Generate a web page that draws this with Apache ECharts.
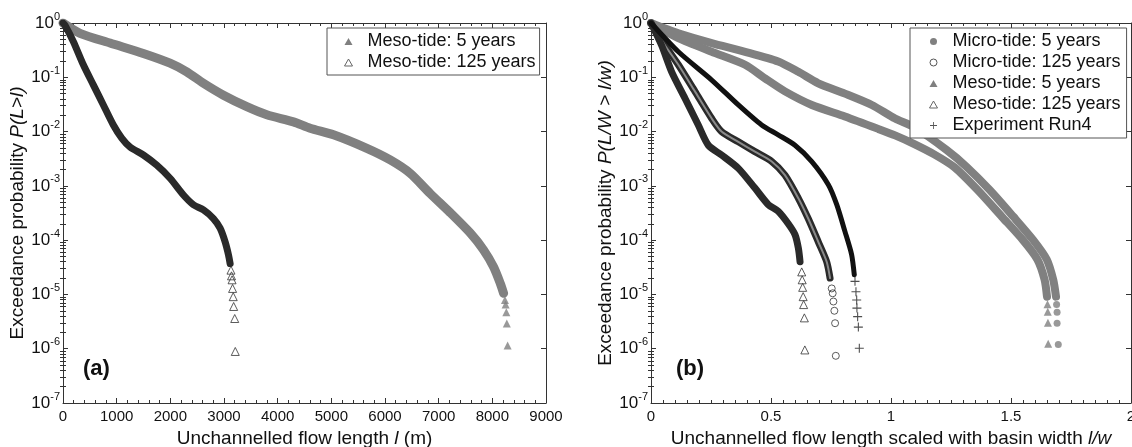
<!DOCTYPE html>
<html><head><meta charset="utf-8">
<script src="https://cdn.jsdelivr.net/npm/echarts@6/dist/echarts.min.js"></script>
<style>html,body{margin:0;padding:0;background:#fff}#c{width:1132px;height:447px}</style>
</head><body><div id="c"></div>
<script>
// ---------- Panel (a): x = unchannelled flow length l (m), y = P(L>l) ----------
const mesoA5Band = [[0,1],[317,0.646],[876,0.427],[1497,0.275],[1995,0.182],[2306,0.126],[2617,0.0776],[2990,0.0468],[3425,0.0288],[3798,0.0204],[4294,0.0151],[4605,0.0115],[5040,0.0087],[5662,0.0049],[6097,0.0030],[6470,0.0017],[6843,7.2e-4],[7216,3.2e-4],[7589,1.35e-4],[7837,6.6e-5],[8024,3.2e-5],[8148,1.6e-5],[8210,1.05e-5]];
const mesoA5Tail = [[8235,7.9e-6],[8248,6.5e-6],[8260,4.7e-6],[8270,2.9e-6],[8285,1.15e-6]];
const mesoA125Band = [[0,1],[37,0.912],[192,0.457],[379,0.170],[565,0.0724],[752,0.0309],[938,0.0132],[1094,0.0076],[1249,0.0052],[1498,0.0037],[1747,0.0024],[1995,0.00138],[2244,6.8e-4],[2430,4.5e-4],[2617,3.6e-4],[2803,2.5e-4],[2927,1.66e-4],[3021,9.3e-5],[3083,5.4e-5],[3114,3.7e-5]];
const mesoA125Tail = [[3130,2.8e-5],[3140,2.2e-5],[3150,1.86e-5],[3160,1.29e-5],[3172,9.1e-6],[3180,6.0e-6],[3200,3.6e-6],[3210,8.9e-7]];

// ---------- Panel (b): x = l/w, y = P(L/W > l/w) ----------
const microB5Band = [[0,1],[0.114,0.646],[0.253,0.427],[0.392,0.295],[0.530,0.195],[0.614,0.126],[0.697,0.0776],[0.808,0.050],[0.92,0.0309],[1.017,0.0174],[1.093,0.0123],[1.232,0.00457],[1.315,0.00224],[1.4125,8.3e-4],[1.51,2.7e-4],[1.593,1.0e-4],[1.649,4.4e-5],[1.676,1.86e-5],[1.6875,9.1e-6]];
const microB5Tail = [[1.690,6.5e-6],[1.692,4.7e-6],[1.692,2.95e-6],[1.697,1.2e-6]];
const mesoB5Band = [[0,1],[0.114,0.525],[0.253,0.295],[0.392,0.170],[0.475,0.0955],[0.558,0.055],[0.67,0.0309],[0.808,0.0190],[0.947,0.0112],[1.017,0.0085],[1.093,0.0060],[1.18,0.0038],[1.265,0.00219],[1.362,8.3e-4],[1.462,2.7e-4],[1.55,1.0e-4],[1.61,4.4e-5],[1.64,1.86e-5],[1.65,9.1e-6]];
const mesoB5Tail = [[1.652,6.6e-6],[1.653,4.8e-6],[1.654,3.0e-6],[1.655,1.23e-6]];
const microB125Band = [[0,1],[0.058,0.389],[0.114,0.170],[0.183,0.055],[0.253,0.0174],[0.294,0.0100],[0.364,0.00646],[0.433,0.00427],[0.503,0.00282],[0.558,0.00158],[0.614,5.9e-4],[0.655,2.5e-4],[0.697,9.3e-5],[0.732,4.0e-5],[0.746,2.0e-5]];
const microB125Tail = [[0.753,1.29e-5],[0.757,1.05e-5],[0.760,7.4e-6],[0.764,5.0e-6],[0.767,2.95e-6],[0.770,7.4e-7]];
const mesoB125Band = [[0,1],[0.044,0.389],[0.086,0.126],[0.142,0.0407],[0.197,0.0132],[0.239,0.0056],[0.294,0.0037],[0.364,0.0021],[0.433,9.1e-4],[0.489,4.5e-4],[0.53,3.4e-4],[0.572,2.0e-4],[0.6,1.26e-4],[0.614,7.1e-5],[0.621,4.0e-5]];
const mesoB125Tail = [[0.628,2.6e-5],[0.630,1.86e-5],[0.632,1.35e-5],[0.634,9.1e-6],[0.636,6.5e-6],[0.639,3.7e-6],[0.641,9.5e-7]];
const expB4Band = [[0,1],[0.114,0.295],[0.253,0.0891],[0.364,0.0309],[0.461,0.0132],[0.530,0.0087],[0.6,0.0056],[0.670,0.0028],[0.739,0.00105],[0.774,4.5e-4],[0.808,1.45e-4],[0.836,5.4e-5],[0.847,2.3e-5]];
const expB4Tail = [[0.850,1.74e-5],[0.854,1.12e-5],[0.857,7.9e-6],[0.858,5.6e-6],[0.861,3.9e-6],[0.864,2.5e-6],[0.868,1.02e-6]];

// ---------- axis settings ----------
const xTicksA = {min:0, max:9000, interval:1000};
const xTicksB = {min:0, max:2, interval:0.5};
const yRange = {min:1e-7, max:1};
const yMinorValues = [];
for (let e = -7; e < 0; e++) for (let k = 2; k <= 9; k++) yMinorValues.push(+(k * Math.pow(10, e)).toPrecision(3));

const NAMES = {
  mi5: 'Micro-tide: 5 years', mi125: 'Micro-tide: 125 years',
  me5: 'Meso-tide: 5 years', me125: 'Meso-tide: 125 years', exp: 'Experiment Run4'
};

const F = '"Liberation Sans", Arial, sans-serif';
const AX = '#333';
const GRAY = '#808080';
const DARK = '#2a2a2a';
const PLUS = 'path://M4.4,0H5.6V4.4H10V5.6H5.6V10H4.4V5.6H0V4.4H4.4Z';

function xAxis(grid, ticks, pos, withLabel, name, split) {
  return {
    type:'value', gridIndex:grid, position:pos, min:ticks.min, max:ticks.max, interval:ticks.interval,
    axisLine:{show:true, onZero:false, lineStyle:{color:AX, width:1}},
    axisTick:{show:true, inside:true, length:5, lineStyle:{color:AX}},
    minorTick:{show:true, splitNumber:split, length:3, lineStyle:{color:AX}},
    splitLine:{show:false}, minorSplitLine:{show:false},
    axisLabel:{show:withLabel, fontSize:15, color:'#111', fontFamily:F, margin:6, formatter: v => String(v)},
    name: withLabel ? name : '', nameLocation:'middle', nameGap:24,
    nameTextStyle:{fontSize:19, color:'#111', fontFamily:F, rich:{i:{fontStyle:'italic', fontSize:19, color:'#111', fontFamily:F}}}
  };
}
function yMajor(grid, pos, withLabel, name) {
  return {
    type:'log', logBase:10, gridIndex:grid, position:pos, min:yRange.min, max:yRange.max, splitNumber:7,
    axisLine:{show:true, onZero:false, lineStyle:{color:AX, width:1}},
    axisTick:{show:true, inside:true, length:5, lineStyle:{color:AX}},
    splitLine:{show:false},
    axisLabel:{show:withLabel, margin:3, color:'#111',
      formatter: v => '{b|10}{s|' + Math.round(Math.log10(v)) + '}',
      rich:{b:{fontSize:17, lineHeight:24, fontFamily:F, color:'#111'}, s:{fontSize:11, lineHeight:11, verticalAlign:'top', fontFamily:F, color:'#111'}}},
    name: withLabel ? name : '', nameLocation:'middle', nameGap:35,
    nameTextStyle:{fontSize:19, color:'#111', fontFamily:F, rich:{i:{fontStyle:'italic', fontSize:19, color:'#111', fontFamily:F}}}
  };
}
function yMinor(grid, pos) {
  return {
    type:'log', logBase:10, gridIndex:grid, position:pos, min:yRange.min, max:yRange.max,
    axisLine:{show:false}, splitLine:{show:false}, axisLabel:{show:false},
    axisTick:{show:true, inside:true, length:3, customValues:yMinorValues, lineStyle:{color:AX}}
  };
}
function band(name, data, xi, yi, color, width) {
  return {type:'line', name, data, xAxisIndex:xi, yAxisIndex:yi, symbol:'none', showSymbol:false,
    smooth:0.25, lineStyle:{color, width, cap:'round', join:'round'}, itemStyle:{color}, silent:true, animation:false};
}
function tail(name, data, xi, yi, symbol, size, style) {
  return {type:'scatter', name, data, xAxisIndex:xi, yAxisIndex:yi, symbol, symbolSize:size, itemStyle:style, silent:true, animation:false};
}
const filledGray = {color:GRAY};
const hollowDark = {color:'transparent', borderColor:'#333', borderWidth:1};
const plusDark = {color:'#222'};
const legendText = {fontSize:18, lineHeight:21, color:'#111', fontFamily:F, padding:[0,0,0,10]};

const option = {
  backgroundColor:'#fff',
  animation:false,
  grid:[
    {left:63, top:23, width:483, height:380, containLabel:false, outerBoundsMode:'none'},
    {left:651, top:23, width:480, height:380, containLabel:false, outerBoundsMode:'none'}
  ],
  xAxis:[
    xAxis(0, xTicksA, 'bottom', true, 'Unchannelled flow length {i|l} (m)', 5),
    xAxis(0, xTicksA, 'top', false, '', 5),
    xAxis(1, xTicksB, 'bottom', true, 'Unchannelled flow length scaled with basin width {i|l/w}', 10),
    xAxis(1, xTicksB, 'top', false, '', 10)
  ],
  yAxis:[
    yMajor(0, 'left', true, 'Exceedance probability {i|P(L>l)}'),
    yMinor(0, 'left'),
    yMajor(0, 'right', false, ''),
    yMinor(0, 'right'),
    yMajor(1, 'left', true, 'Exceedance probability {i|P(L/W > l/w)}'),
    yMinor(1, 'left'),
    yMajor(1, 'right', false, ''),
    yMinor(1, 'right')
  ],
  legend:[
    {left:327, top:28, orient:'vertical', itemGap:0, itemWidth:8, itemHeight:7, padding:[3,4,2,17],
     borderColor:'#555', borderWidth:1, backgroundColor:'#fff', z:10, selectedMode:false, textStyle:legendText,
     data:[
       {name:NAMES.me5, icon:'triangle', itemStyle:{color:GRAY}},
       {name:NAMES.me125, icon:'triangle', itemStyle:{color:'#fff', borderColor:'#666', borderWidth:1}}
     ]},
    {left:910, top:28, orient:'vertical', itemGap:0, itemWidth:8, itemHeight:7, padding:[3,6,2,19],
     borderColor:'#555', borderWidth:1, backgroundColor:'#fff', z:10, selectedMode:false, textStyle:legendText,
     data:[
       {name:NAMES.mi5, icon:'circle', itemStyle:{color:GRAY}},
       {name:NAMES.mi125, icon:'circle', itemStyle:{color:'#fff', borderColor:'#555', borderWidth:1}},
       {name:NAMES.me5, icon:'triangle', itemStyle:{color:GRAY}},
       {name:NAMES.me125, icon:'triangle', itemStyle:{color:'#fff', borderColor:'#666', borderWidth:1}},
       {name:NAMES.exp, icon:PLUS, itemStyle:{color:'#555'}}
     ]}
  ],
  graphic:[
    {type:'text', left:83, top:358, style:{text:'(a)', fontSize:22, fontWeight:'bold', fontFamily:F, fill:'#111'}},
    {type:'text', left:676, top:358, style:{text:'(b)', fontSize:22, fontWeight:'bold', fontFamily:F, fill:'#111'}}
  ],
  series:[
    band(NAMES.me5, mesoA5Band, 0, 0, GRAY, 9),
    tail(NAMES.me5, mesoA5Tail, 0, 0, 'triangle', 8, filledGray),
    band(NAMES.me125, mesoA125Band, 0, 0, DARK, 7),
    tail(NAMES.me125, mesoA125Tail, 0, 0, 'triangle', 8, hollowDark),

    band(NAMES.mi5, microB5Band, 2, 4, GRAY, 8),
    tail(NAMES.mi5, microB5Tail, 2, 4, 'circle', 7, filledGray),
    band(NAMES.me5, mesoB5Band, 2, 4, GRAY, 8),
    tail(NAMES.me5, mesoB5Tail, 2, 4, 'triangle', 8, filledGray),
    band(NAMES.mi125, microB125Band, 2, 4, DARK, 7),
    band(NAMES.mi125, microB125Band, 2, 4, '#8a8a8a', 2),
    tail(NAMES.mi125, microB125Tail, 2, 4, 'circle', 7, hollowDark),
    band(NAMES.me125, mesoB125Band, 2, 4, DARK, 7),
    tail(NAMES.me125, mesoB125Tail, 2, 4, 'triangle', 8, hollowDark),
    band(NAMES.exp, expB4Band, 2, 4, '#111', 5),
    tail(NAMES.exp, expB4Tail, 2, 4, PLUS, 9, plusDark)
  ]
};
const chart = echarts.init(document.getElementById('c'), null, {renderer:'canvas'});
chart.setOption(option);
</script>
</body></html>
